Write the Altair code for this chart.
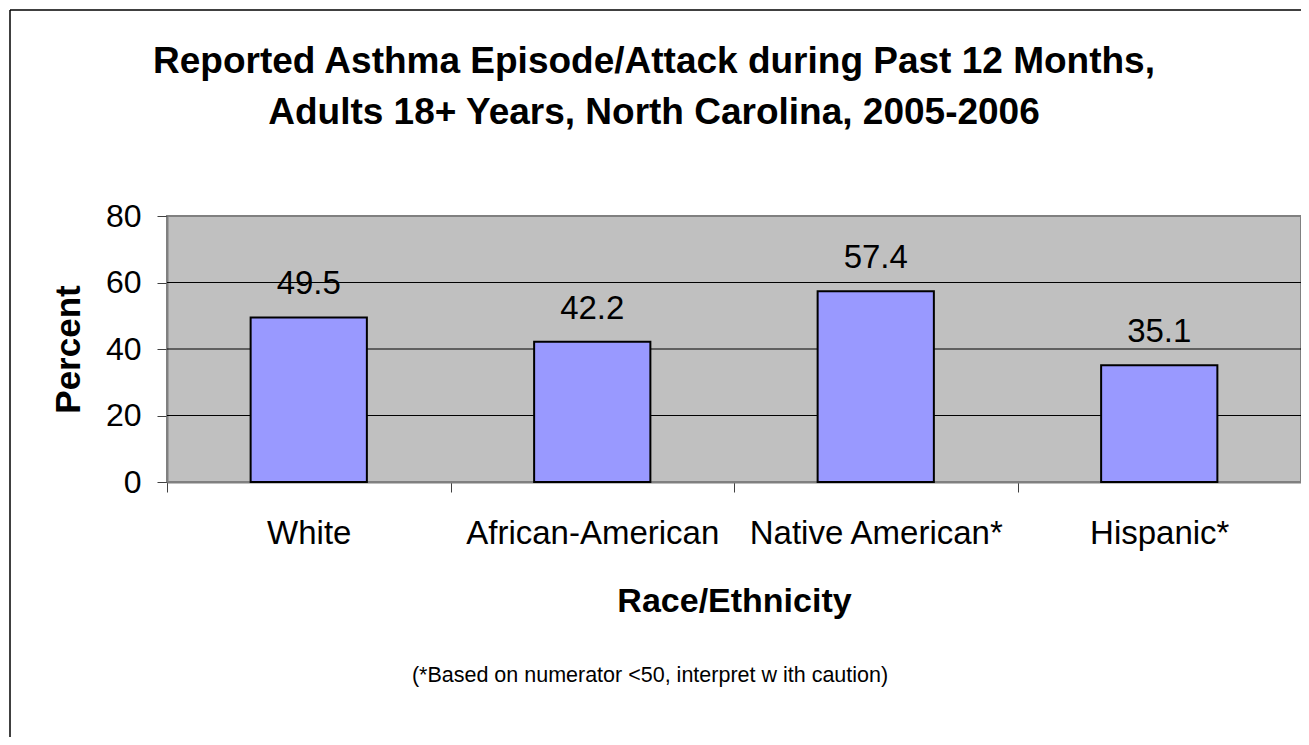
import altair as alt
import pandas as pd

categories = ["White", "African-American", "Native American*", "Hispanic*"]
values = [49.5, 42.2, 57.4, 35.1]
y_ticks = [0, 20, 40, 60, 80]
grid_values = [20, 40, 60]
title_lines = ["Reported Asthma Episode/Attack during Past 12 Months,",
               "Adults 18+ Years, North Carolina, 2005-2006"]
footnote = "(*Based on numerator <50, interpret w ith caution)"

df = pd.DataFrame({"cat": categories, "val": values, "lab": [f"{v:.1f}" for v in values]})
grid_df = pd.DataFrame({"g": grid_values})

FONT = "Liberation Sans"
W, H = 1134, 266

x_axis = alt.Axis(title="Race/Ethnicity", labelAngle=0, tickBand="extent",
                  tickSize=10, tickColor="#404040", domainColor="#808080",
                  domainWidth=2, labelFontSize=33, labelFont=FONT, labelLimit=0,
                  labelColor="black", labelPadding=25,
                  titleFont=FONT, titleFontSize=34, titleFontWeight="bold",
                  titleColor="black", titleBaseline="middle", titleY=119)
y_axis = alt.Axis(title="Percent", values=y_ticks, grid=False, tickSize=10,
                  tickColor="#404040", domainColor="#808080", domainWidth=2,
                  labelFontSize=32, labelFont=FONT, labelColor="black",
                  labelPadding=16, titleFont=FONT, titleFontSize=35,
                  titleFontWeight="bold", titleColor="black",
                  titleAngle=-90, titleBaseline="middle", titleAlign="center",
                  titleX=-99, titleY=H / 2)
y_scale = alt.Scale(domain=[0, 80], nice=False)
x_scale = alt.Scale(paddingInner=0, paddingOuter=0)

grid = alt.Chart(grid_df).mark_rule(color="black", strokeWidth=1).encode(
    y=alt.Y("g:Q", scale=y_scale, axis=y_axis, title="Percent"))

bars = alt.Chart(df).mark_bar(color="#9999FF", stroke="black", strokeWidth=2,
                              width=alt.RelativeBandSize(0.41)).encode(
    x=alt.X("cat:N", sort=categories, scale=x_scale, axis=x_axis),
    y=alt.Y("val:Q", scale=y_scale, axis=y_axis, title="Percent"))

labels = alt.Chart(df).mark_text(font=FONT, fontSize=33, color="black",
                                 baseline="middle", dy=-33).encode(
    x=alt.X("cat:N", sort=categories), y=alt.Y("val:Q"), text="lab:N")

one = alt.Data(values=[{}])
border_left = alt.Chart(one).mark_rule(color="black", strokeWidth=1.5).encode(
    x=alt.value(-157), y=alt.value(-206), y2=alt.value(600))
border_top = alt.Chart(one).mark_rule(color="black", strokeWidth=1.5).encode(
    x=alt.value(-157), x2=alt.value(1200), y=alt.value(-206))

title1 = alt.Chart(one).mark_text(font=FONT, fontSize=37, fontWeight="bold",
                                  color="black", baseline="alphabetic",
                                  align="center").encode(
    x=alt.value(487), y=alt.value(-143), text=alt.value(title_lines[0]))
title2 = alt.Chart(one).mark_text(font=FONT, fontSize=37, fontWeight="bold",
                                  color="black", baseline="alphabetic",
                                  align="center").encode(
    x=alt.value(487), y=alt.value(-92), text=alt.value(title_lines[1]))

note = alt.Chart(one).mark_text(font=FONT, fontSize=21.5, color="black",
                                baseline="middle", align="center").encode(
    x=alt.value(483), y=alt.value(460), text=alt.value(footnote))

chart = alt.layer(grid, bars, labels, border_left, border_top, title1, title2, note).properties(
    width=W, height=H,
    background="white",
    autosize=alt.AutoSizeParams(type="none"),
    padding={"left": 159, "top": 208, "right": 0, "bottom": 255},
).configure_view(fill="#C0C0C0", stroke="#808080", strokeWidth=2)

chart.save("out.html", embed_options={"renderer": "svg", "actions": False})
